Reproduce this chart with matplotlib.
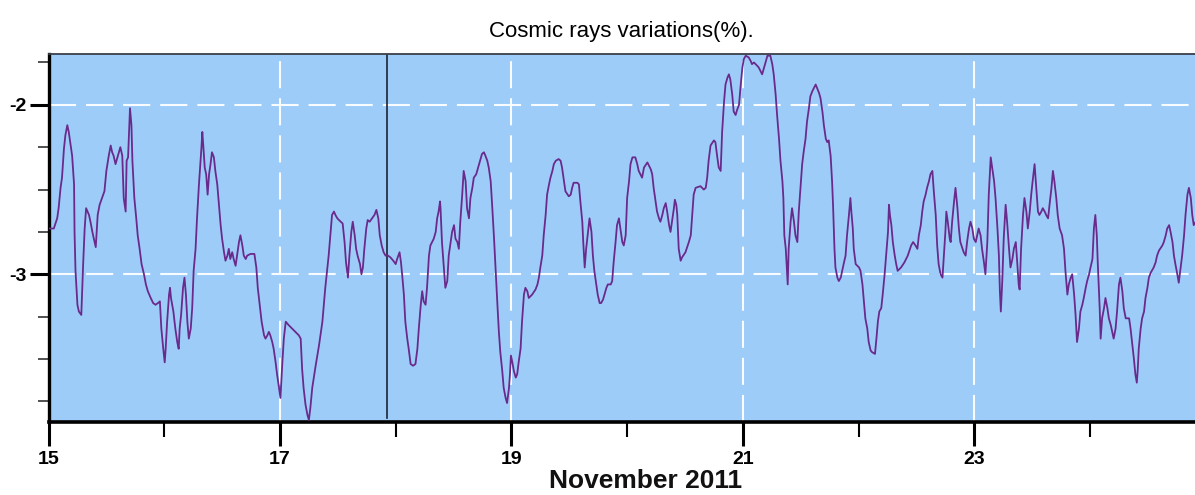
import matplotlib
matplotlib.use("Agg")
import matplotlib.pyplot as plt
from matplotlib import font_manager
import numpy as np

# ---- data: (hours since 15 Nov 2011 00:00 UT, variation %) ----
seg1 = [(0.0,-2.73),(1.1,-2.73),(1.8,-2.67),(2.1,-2.61),(2.5,-2.49),(2.8,-2.43),(3.2,-2.26),(3.5,-2.18),(3.9,-2.12),(4.2,-2.16),(4.6,-2.24),(4.9,-2.30),(5.3,-2.47),(5.4,-2.75),(5.6,-2.98),(6.0,-3.18),(6.3,-3.22),(6.8,-3.24),(7.2,-2.93),(7.5,-2.73),(7.8,-2.61),(8.4,-2.65),(8.7,-2.69),(9.1,-2.75),(9.4,-2.79),(9.8,-2.84),(10.2,-2.65),(10.6,-2.59),(11.1,-2.55),(11.6,-2.51),(12.0,-2.39),(12.5,-2.30),(12.9,-2.24),(13.2,-2.28),(13.5,-2.30),(13.9,-2.35),(14.4,-2.30),(14.9,-2.25),(15.3,-2.30),(15.6,-2.55),(16.0,-2.63),(16.2,-2.33),(16.5,-2.31),(16.9,-2.02),(17.2,-2.12),(17.4,-2.33),(17.8,-2.55),(18.2,-2.67),(18.5,-2.77),(18.9,-2.85),(19.3,-2.94),(19.8,-3.00),(20.2,-3.06),(20.6,-3.10),(21.2,-3.14),(21.7,-3.17),(22.2,-3.18),(22.7,-3.17),(23.1,-3.16),(23.4,-3.32),(23.8,-3.44),(24.1,-3.52),(24.3,-3.44),(24.6,-3.28),(25.0,-3.12),(25.2,-3.08),(25.4,-3.14),(25.9,-3.22),(26.3,-3.32),(26.7,-3.40),(27.0,-3.44),(27.2,-3.32),(27.5,-3.24),(27.9,-3.08),(28.2,-3.02),(28.5,-3.12),(28.8,-3.28),(29.1,-3.38),(29.5,-3.32)]
seg2 = [(29.8,-3.20),(30.1,-2.98),(30.5,-2.85),(30.8,-2.67),(31.2,-2.47),(31.7,-2.26),(31.9,-2.16),(32.1,-2.24),(32.4,-2.37),(32.7,-2.41),(33.0,-2.53),(33.3,-2.41),(33.6,-2.35),(33.9,-2.28),(34.3,-2.31),(34.6,-2.39),(35.0,-2.47),(35.3,-2.57),(35.7,-2.71),(36.0,-2.79),(36.4,-2.87),(36.7,-2.92),(37.1,-2.89),(37.4,-2.85),(37.7,-2.91),(38.1,-2.87),(38.4,-2.91),(38.8,-2.95),(39.1,-2.89),(39.5,-2.81),(39.8,-2.77),(40.2,-2.83),(40.5,-2.89),(40.9,-2.91),(41.2,-2.89),(41.9,-2.88),(42.7,-2.88),(43.1,-2.96),(43.4,-3.08),(43.8,-3.18),(44.2,-3.28),(44.7,-3.36),(45.0,-3.38),(45.4,-3.36),(45.7,-3.34),(46.0,-3.36),(46.4,-3.40),(46.7,-3.44),(47.1,-3.52),(47.4,-3.59),(47.8,-3.67),(48.1,-3.73),(48.5,-3.52),(48.8,-3.38),(49.2,-3.28),(49.8,-3.30),(50.5,-3.32),(51.2,-3.34),(51.9,-3.36),(52.3,-3.38),(52.6,-3.56),(52.9,-3.67),(53.3,-3.77),(53.7,-3.83),(54.0,-3.86),(54.3,-3.79),(54.7,-3.67),(55.4,-3.54),(56.1,-3.42),(56.8,-3.28),(57.4,-3.08),(58.1,-2.89),(58.8,-2.65),(59.2,-2.63)]
seg3 = [(59.5,-2.65),(59.9,-2.67),(60.6,-2.69),(61.0,-2.70),(61.4,-2.81),(61.7,-2.93),(62.1,-3.02),(62.4,-2.89),(62.8,-2.75),(63.1,-2.69),(63.5,-2.77),(63.8,-2.85),(64.1,-2.89),(64.6,-2.94),(64.9,-3.00),(65.2,-2.96),(65.5,-2.85),(65.9,-2.73),(66.2,-2.68),(66.6,-2.69),(67.1,-2.67),(67.6,-2.65),(68.0,-2.62),(68.4,-2.67),(68.7,-2.77),(69.1,-2.83),(69.5,-2.87),(69.9,-2.89),(70.4,-2.89),(70.9,-2.90),(71.5,-2.92),(72.0,-2.94),(72.3,-2.91),(72.8,-2.87),(73.1,-2.93),(73.4,-3.02),(73.7,-3.12),(74.0,-3.28),(74.4,-3.38),(74.7,-3.44),(75.1,-3.53),(75.6,-3.54),(76.1,-3.53),(76.5,-3.44),(76.8,-3.32),(77.2,-3.18),(77.5,-3.10),(77.8,-3.16),(78.2,-3.18),(78.5,-3.08),(78.9,-2.89),(79.2,-2.83),(79.9,-2.79),(80.3,-2.75),(80.6,-2.67),(80.9,-2.63),(81.2,-2.57),(81.3,-2.61),(81.6,-2.81),(82.0,-2.96),(82.3,-3.08),(82.7,-3.04),(83.0,-2.89),(83.4,-2.81),(83.7,-2.75),(84.1,-2.71),(84.4,-2.79),(84.8,-2.81),(85.1,-2.85),(85.4,-2.69),(85.8,-2.53),(86.1,-2.39),(86.5,-2.45),(86.8,-2.61),(87.2,-2.67),(87.5,-2.55),(87.9,-2.49),(88.2,-2.43),(88.7,-2.41),(89.1,-2.37),(89.5,-2.33)]
seg4 = [(89.9,-2.29),(90.3,-2.28),(90.6,-2.30),(91.0,-2.33),(91.3,-2.37),(91.7,-2.45),(92.0,-2.59),(92.4,-2.79),(92.7,-2.96),(93.1,-3.18),(93.4,-3.34),(93.7,-3.46),(94.1,-3.57),(94.4,-3.67),(94.8,-3.73),(95.1,-3.76),(95.5,-3.67),(95.7,-3.59),(95.9,-3.48),(96.2,-3.52),(96.5,-3.57),(96.9,-3.61),(97.2,-3.59),(97.5,-3.52),(97.9,-3.44),(98.2,-3.28),(98.6,-3.12),(98.9,-3.08),(99.3,-3.10),(99.6,-3.14),(100.3,-3.12),(101.0,-3.09),(101.4,-3.06),(101.7,-3.02),(102.0,-2.96),(102.4,-2.89),(102.7,-2.77),(103.1,-2.65),(103.4,-2.53),(103.8,-2.47),(104.1,-2.43),(104.5,-2.39),(104.8,-2.35),(105.2,-2.33),(105.8,-2.32),(106.2,-2.33),(106.5,-2.37),(106.9,-2.45),(107.2,-2.51),(107.9,-2.54),(108.3,-2.53),(108.6,-2.49),(108.9,-2.46),(109.7,-2.46),(110.0,-2.47),(110.3,-2.57),(110.7,-2.69),(110.9,-2.81),(111.2,-2.96),(111.5,-2.85),(111.9,-2.75),(112.2,-2.67),(112.6,-2.75),(112.9,-2.89),(113.2,-2.98),(113.6,-3.06),(113.9,-3.12),(114.3,-3.17),(114.6,-3.17),(115.0,-3.15),(115.3,-3.12),(115.7,-3.08),(116.0,-3.06),(116.6,-3.06),(116.9,-3.04),(117.2,-2.93),(117.6,-2.81),(117.9,-2.71),(118.3,-2.67),(118.6,-2.73),(119.0,-2.81),(119.3,-2.83),(119.7,-2.77)]
seg5 = [(120.0,-2.55),(120.4,-2.45),(120.7,-2.35),(121.1,-2.31),(121.7,-2.31),(122.1,-2.35),(122.4,-2.39),(123.1,-2.43),(123.5,-2.37),(124.2,-2.34),(124.9,-2.38),(125.2,-2.41),(125.5,-2.49),(125.9,-2.57),(126.2,-2.63),(126.6,-2.67),(126.9,-2.69),(127.3,-2.65),(127.6,-2.61),(128.0,-2.58),(128.3,-2.63),(128.7,-2.71),(129.0,-2.75),(129.4,-2.67),(129.7,-2.61),(129.9,-2.56),(130.2,-2.59),(130.4,-2.65),(130.7,-2.85),(131.1,-2.92),(131.4,-2.90),(132.1,-2.87),(132.8,-2.81),(133.2,-2.77),(133.5,-2.65),(133.8,-2.53),(134.2,-2.49),(135.2,-2.48),(135.9,-2.50),(136.3,-2.49),(136.6,-2.43),(136.9,-2.33),(137.3,-2.24),(138.0,-2.21),(138.3,-2.22),(138.7,-2.31),(139.0,-2.37),(139.4,-2.39),(139.7,-2.16),(140.1,-1.98),(140.4,-1.88),(140.8,-1.84),(141.1,-1.82),(141.4,-1.85),(141.8,-1.94),(142.1,-2.04),(142.5,-2.06),(142.8,-2.03),(143.2,-2.00),(143.5,-1.90),(143.9,-1.78),(144.2,-1.73),(144.6,-1.71),(145.2,-1.72),(145.6,-1.74),(145.9,-1.76),(146.3,-1.75),(147.0,-1.77),(147.3,-1.78),(148.0,-1.82),(148.4,-1.78),(149.1,-1.71),(149.7,-1.71)]
seg6 = [(150.1,-1.76),(150.4,-1.82),(150.8,-1.94),(151.1,-2.06),(151.5,-2.20),(151.8,-2.33),(152.2,-2.45),(152.4,-2.55),(152.6,-2.77),(152.9,-2.85),(153.1,-2.96),(153.3,-3.06),(153.5,-2.85),(153.9,-2.69),(154.2,-2.61),(154.6,-2.69),(154.9,-2.77),(155.3,-2.81),(155.6,-2.63),(156.0,-2.47),(156.3,-2.35),(156.6,-2.28),(157.0,-2.20),(157.3,-2.10),(157.7,-2.02),(158.0,-1.95),(158.4,-1.92),(159.1,-1.88),(159.8,-1.93),(160.1,-1.96),(160.5,-2.04),(160.8,-2.12),(161.2,-2.20),(161.5,-2.22),(161.8,-2.21),(162.2,-2.30),(162.5,-2.45),(162.7,-2.59),(163.0,-2.85),(163.2,-2.96),(163.6,-3.02),(163.9,-3.04),(164.3,-3.02),(164.6,-2.98),(164.9,-2.94),(165.3,-2.89),(165.6,-2.77),(166.0,-2.65),(166.3,-2.55),(166.5,-2.63),(166.8,-2.73),(167.0,-2.85),(167.4,-2.94),(168.1,-2.96),(168.4,-2.98),(168.8,-3.06),(169.1,-3.16),(169.4,-3.26),(169.8,-3.32),(170.1,-3.40),(170.5,-3.45),(170.8,-3.46),(171.4,-3.47),(171.7,-3.38),(172.0,-3.28),(172.3,-3.22),(172.7,-3.20),(173.0,-3.12),(173.4,-3.00),(173.7,-2.89),(174.1,-2.75),(174.3,-2.59),(174.5,-2.65),(174.8,-2.71),(175.1,-2.81),(175.5,-2.89),(175.8,-2.94),(176.1,-2.98),(176.8,-2.96),(177.5,-2.93),(178.2,-2.89),(178.9,-2.83),(179.3,-2.81),(179.8,-2.83)]
seg7 = [(180.2,-2.85),(180.5,-2.77),(180.9,-2.71),(181.2,-2.63),(181.5,-2.57),(181.9,-2.53),(182.2,-2.49),(182.6,-2.45),(182.9,-2.41),(183.3,-2.39),(183.6,-2.51),(184.0,-2.65),(184.3,-2.83),(184.6,-2.94),(185.0,-3.00),(185.4,-3.02),(185.7,-2.89),(186.0,-2.75),(186.2,-2.63),(186.5,-2.69),(186.9,-2.79),(187.1,-2.81),(187.4,-2.69),(187.8,-2.57),(188.1,-2.49),(188.5,-2.61),(188.8,-2.73),(189.1,-2.81),(189.8,-2.87),(190.2,-2.89),(190.5,-2.81),(190.9,-2.73),(191.2,-2.69),(191.6,-2.73),(191.9,-2.79),(192.3,-2.81),(192.6,-2.77),(192.9,-2.73),(193.3,-2.77),(193.6,-2.85),(194.0,-2.93),(194.3,-3.00),(194.7,-2.81),(195.0,-2.53),(195.4,-2.31),(195.7,-2.37),(196.1,-2.45),(196.4,-2.55),(196.8,-2.73),(197.1,-2.89),(197.3,-3.10),(197.5,-3.22),(197.8,-3.04),(198.1,-2.79),(198.5,-2.59),(198.8,-2.69),(199.2,-2.85),(199.5,-2.96),(199.9,-2.91),(200.2,-2.85),(200.6,-2.81),(200.9,-2.93),(201.2,-3.06),(201.4,-3.09),(201.7,-2.85),(202.1,-2.65),(202.4,-2.55),(202.8,-2.63),(203.1,-2.73),(203.5,-2.63),(203.8,-2.53),(204.1,-2.45),(204.5,-2.35),(204.8,-2.47),(205.2,-2.63),(205.5,-2.65),(205.9,-2.63),(206.2,-2.61),(206.6,-2.63),(206.9,-2.65),(207.3,-2.67),(207.6,-2.59),(208.0,-2.49),(208.3,-2.39),(208.6,-2.45),(209.0,-2.55),(209.3,-2.65),(209.7,-2.73)]
seg8 = [(210.2,-2.77),(210.6,-2.85),(210.9,-2.98),(211.3,-3.12),(211.6,-3.06),(212.0,-3.02),(212.3,-3.00),(212.7,-3.12),(213.0,-3.24),(213.3,-3.40),(213.7,-3.32),(214.0,-3.22),(214.4,-3.18),(214.7,-3.14),(215.1,-3.08),(215.4,-3.04),(215.8,-3.00),(216.1,-2.96),(216.5,-2.91),(216.8,-2.73),(217.1,-2.65),(217.4,-2.77),(217.6,-2.93),(218.0,-3.20),(218.2,-3.38),(218.5,-3.26),(218.9,-3.20),(219.2,-3.14),(219.6,-3.20),(219.9,-3.26),(220.3,-3.30),(220.6,-3.34),(220.9,-3.38),(221.3,-3.32),(221.6,-3.22),(222.0,-3.06),(222.3,-3.02),(222.7,-3.10),(223.0,-3.20),(223.4,-3.26),(224.1,-3.26),(224.4,-3.32),(224.8,-3.42),(225.1,-3.50),(225.4,-3.59),(225.7,-3.64),(225.9,-3.56),(226.1,-3.44),(226.5,-3.32),(226.8,-3.26),(227.2,-3.22),(227.5,-3.14),(227.9,-3.08),(228.2,-3.02),(228.6,-2.99),(229.2,-2.96),(229.6,-2.93),(229.9,-2.89),(230.3,-2.86),(231.0,-2.83),(231.3,-2.81),(231.7,-2.77),(232.0,-2.73),(232.4,-2.71),(232.7,-2.75),(233.1,-2.81),(233.4,-2.89),(233.7,-2.94),(234.1,-3.00),(234.4,-3.05),(234.8,-2.96),(235.1,-2.89),(235.5,-2.77),(235.8,-2.65),(236.2,-2.53),(236.5,-2.49),(236.9,-2.55),(237.2,-2.65),(237.5,-2.71),(237.9,-2.69)]

major_days = [15, 17, 19, 21, 23]
minor_days = [16, 18, 20, 22, 24]
major_y = [-2, -3]
minor_y = [-1.75, -2.25, -2.5, -2.75, -3.25, -3.5, -3.75]
marker_day = 17.925
title_text = "Cosmic rays variations(%)."
xlabel_text = "November 2011"

# ---- fonts ----
avail = {f.name for f in font_manager.fontManager.ttflist}
narrow = 'Liberation Sans Narrow' if 'Liberation Sans Narrow' in avail else 'Liberation Sans'

pairs = seg1 + seg2 + seg3 + seg4 + seg5 + seg6 + seg7 + seg8
hours = np.array([p[0] for p in pairs])
vals = np.array([p[1] for p in pairs])
days = 15 + hours / 24.0

W, H = 1195, 495
fig = plt.figure(figsize=(W / 100, H / 100), dpi=100)
fig.patch.set_facecolor('white')
ax = fig.add_axes([48.5 / W, 1 - 422 / H, 1 - 48.5 / W, (422 - 54) / H])
ax.set_facecolor('#9ECCF9')

ax.set_xlim(15, 24.907)
ax.set_ylim(-3.872, -1.70)

dash = (0, (13, 4.8))
for d in major_days[1:]:
    ax.axvline(d, color='white', lw=1.5, ls=dash, zorder=1, alpha=0.95)
for yv in major_y:
    ax.axhline(yv, color='white', lw=1.5, ls=dash, zorder=1, alpha=0.95)

ax.axvline(marker_day, ymin=0.01, ymax=1, color='#1c2336', lw=1.2, zorder=2)

ax.plot(days, vals, color='#6a2a8c', lw=1.3, zorder=3)

ax.set_xticks(major_days)
ax.set_xticks(minor_days, minor=True)
ax.set_xticklabels([str(d) for d in major_days])
ax.set_yticks(major_y)
ax.set_yticks(minor_y, minor=True)
ax.set_yticklabels([str(v) for v in major_y])

ax.tick_params(axis='x', which='major', length=17, width=2.2, color='black', pad=4,
               direction='out')
ax.tick_params(axis='x', which='minor', length=11, width=1.5, color='black', direction='out')
ax.tick_params(axis='y', which='major', length=14, width=2.2, color='black', pad=2,
               direction='out')
ax.tick_params(axis='y', which='minor', length=8, width=1.2, color='#333333', direction='out')

for lab in ax.get_xticklabels() + ax.get_yticklabels():
    lab.set_fontfamily([narrow, 'DejaVu Sans'])
    lab.set_fontweight('bold')
    lab.set_fontsize(14)

ax.spines['left'].set_linewidth(2.4)
ax.spines['bottom'].set_linewidth(2.6)
ax.spines['left'].set_color('black')
ax.spines['bottom'].set_color('black')
ax.spines['top'].set_linewidth(1.3)
ax.spines['top'].set_color('#3a3f4a')
ax.spines['right'].set_visible(False)

fig.text(621 / W, 1 - 37 / H, title_text, ha='center', va='baseline',
         fontsize=16, family=['Liberation Sans', 'DejaVu Sans'], color='black')
fig.text(646 / W, 1 - 488 / H, xlabel_text, ha='center', va='baseline',
         fontsize=19, fontweight='bold', family=['Liberation Sans', 'DejaVu Sans'],
         color='#111111')

fig.savefig('out.png', dpi=100)
